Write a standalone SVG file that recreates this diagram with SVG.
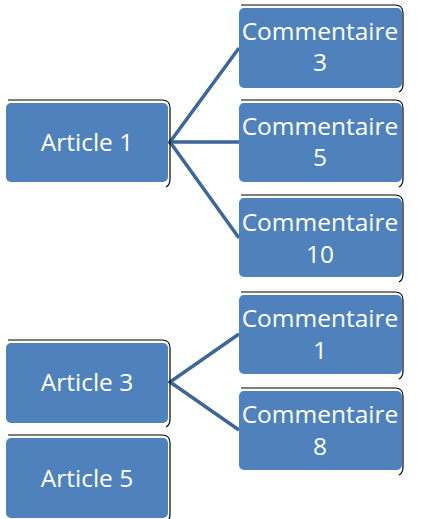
<svg xmlns="http://www.w3.org/2000/svg" width="423" height="519" viewBox="0 0 423 519">
<style>
.sh{fill:none;stroke:#000;stroke-width:1.2}
.bx{fill:#4F81BD}
.t{fill:#fff;font-family:"Open Sans","Liberation Sans",sans-serif;font-size:24.5px;text-anchor:middle}
.c{fill:none;stroke:#3D6795;stroke-width:3.5}
</style>
<defs>
<path id="s1" class="sh" d="M4,3 H158 Q166,3 166,11 V82 Q166,88 162,90"/>
</defs>
<rect width="423" height="519" fill="#fff"/>
<g id="connectors">
<polyline class="c" points="239,48 170,142 239,142"/>
<line class="c" x1="170" y1="142" x2="239" y2="238"/>
<polyline class="c" points="239,334 170,382 239,430"/>
</g>
<g id="article1"><use href="#s1" x="4" y="97"/><rect class="bx" x="6" y="103" width="162" height="79" rx="5"/><text class="t" x="87" y="151">Article 1</text></g>
<g id="article3"><use href="#s1" x="4" y="337"/><rect class="bx" x="6" y="343" width="162" height="80" rx="5"/><text class="t" x="87" y="391">Article 3</text></g>
<g id="article5"><use href="#s1" x="4" y="432"/><rect class="bx" x="6" y="438" width="162" height="80" rx="5"/><text class="t" x="87" y="487">Article 5</text></g>
<g id="com3"><use href="#s1" x="237" y="2"/><rect class="bx" x="239" y="8" width="163" height="80" rx="5"/><text class="t" x="320" y="40">Commentaire</text><text class="t" x="320" y="71">3</text></g>
<g id="com5"><use href="#s1" x="237" y="97"/><rect class="bx" x="239" y="103" width="163" height="79" rx="5"/><text class="t" x="320" y="135">Commentaire</text><text class="t" x="320" y="166">5</text></g>
<g id="com10"><use href="#s1" x="237" y="192"/><rect class="bx" x="239" y="198" width="163" height="79" rx="5"/><text class="t" x="320" y="231">Commentaire</text><text class="t" x="320" y="263">10</text></g>
<g id="com1"><use href="#s1" x="237" y="289"/><rect class="bx" x="239" y="295" width="163" height="79" rx="5"/><text class="t" x="320" y="327">Commentaire</text><text class="t" x="320" y="359">1</text></g>
<g id="com8"><use href="#s1" x="237" y="385"/><rect class="bx" x="239" y="391" width="163" height="79" rx="5"/><text class="t" x="320" y="423">Commentaire</text><text class="t" x="320" y="455">8</text></g>
</svg>
